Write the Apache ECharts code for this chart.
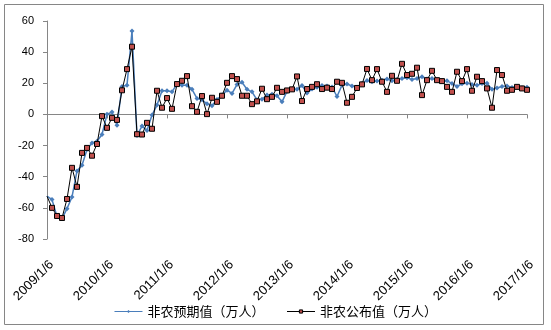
<!DOCTYPE html>
<html>
<head>
<meta charset="utf-8">
<script src="https://cdn.jsdelivr.net/npm/echarts@6/dist/echarts.min.js"></script>
<style>
  html, body { margin: 0; padding: 0; background: #fff; }
  #chart { width: 551px; height: 330px; }
</style>
</head>
<body>
<div id="chart"></div>
<script>
// Monthly US non-farm payrolls, Jan 2009 - Jan 2017 (ten-thousands of jobs)
const startYear = 2009;
const monthCount = 97;
const seriesNames = ['非农预期值（万人）', '非农公布值（万人）'];

// Consensus forecast
const expected = [
  -52.5, -54.7, -65.5, -66.9, -60.5, -53.0, -36.3, -32.6, -22.5, -18.3, -17.2, -12.9,
  0.1, 1.5, -7.0, 18.0, 18.8, 53.6, -13.5, -7.5, -10.3, -0.4, 6.0, 15.2,
  15.2, 14.5, 19.6, 18.8, 18.8, 16.1, 10.3, 9.4, 6.8, 5.6, 9.6, 12.4,
  15.6, 13.5, 19.2, 20.7, 16.1, 14.5, 9.4, 9.7, 12.4, 12.9, 12.0, 8.1,
  14.8, 16.0, 16.1, 18.5, 13.7, 16.4, 17.5, 18.5, 18.3, 17.6, 11.5, 18.8,
  19.5, 18.3, 17.5, 19.9, 21.8, 21.0, 21.4, 22.0, 22.7, 21.6, 22.5, 23.1,
  23.5, 22.5, 23.1, 24.2, 22.7, 23.1, 22.0, 21.4, 21.6, 19.9, 18.0, 19.7,
  20.1, 19.3, 18.8, 19.8, 20.1, 16.1, 17.0, 17.9, 18.2, 17.3, 17.7, 17.2,
  17.5
];

// Published figure
const actual = [
  -52.5, -60.0, -65.2, -66.5, -54.3, -34.3, -46.5, -24.7, -21.5, -26.5, -19.0, -1.1,
  -8.6, -2.2, -3.5, 15.5, 29.1, 43.5, -12.7, -12.9, -5.4, -9.2, 15.2, 4.3,
  10.5, 3.6, 19.5, 21.6, 24.6, 5.3, 1.7, 11.8, 0.2, 10.7, 8.1, 12.0,
  20.3, 24.6, 22.7, 12.0, 12.0, 6.6, 8.4, 16.5, 9.8, 11.3, 17.1, 14.5,
  15.4, 16.1, 24.4, 8.6, 16.3, 17.7, 19.4, 16.3, 17.2, 16.3, 21.0, 20.3,
  7.5, 11.3, 17.0, 19.3, 29.2, 22.0, 29.1, 21.0, 14.5, 24.8, 21.6, 32.5,
  25.3, 26.1, 30.0, 12.4, 22.0, 28.0, 22.0, 21.4, 17.7, 14.5, 27.4, 21.4,
  29.1, 15.2, 24.2, 21.4, 16.7, 4.3, 28.5, 25.3, 15.2, 15.8, 17.7, 16.7,
  15.8
];

const yMin = -80, yMax = 60, yStep = 20;

// Month labels in the form year/month/6
const months = [];
for (let i = 0; i < monthCount; i++) {
  const y = startYear + Math.floor(i / 12);
  const m = (i % 12) + 1;
  months.push(y + '/' + m + '/6');
}

// First point sits on the axis without a marker
function withFirstHidden(arr) {
  return arr.map((v, i) => i === 0 ? { value: v, symbol: 'none' } : v);
}

const axisGray = '#868686';
const latin = '"Liberation Sans", Arial, sans-serif';
const cjk = '"Noto Sans CJK SC", "Liberation Sans", sans-serif';

const chart = echarts.init(document.getElementById('chart'), null, { renderer: 'canvas' });
chart.setOption({
  animation: false,
  backgroundColor: '#fff',
  graphic: [{
    type: 'rect',
    shape: { x: 4.5, y: 4.5, width: 539, height: 320 },
    style: { fill: null, stroke: axisGray, lineWidth: 1 },
    silent: true
  }],
  grid: { left: 47, right: 24, top: 21, bottom: 91, containLabel: false },
  legend: {
    data: seriesNames,
    top: 300,
    left: 'center',
    itemWidth: 28,
    itemHeight: 4,
    itemGap: 22,
    itemStyle: { borderWidth: 1 },
    lineStyle: { width: 1 },
    textStyle: { fontFamily: cjk, fontSize: 13, color: '#000' }
  },
  xAxis: [
    {
      // labels along the bottom of the plot
      type: 'category',
      data: months,
      boundaryGap: false,
      position: 'bottom',
      axisLine: { show: false, onZero: false },
      axisTick: { show: false },
      splitLine: { show: false },
      axisLabel: {
        interval: 11, rotate: 45, margin: 19, verticalAlign: 'top',
        fontFamily: latin, fontSize: 13, color: '#000'
      }
    },
    {
      // baseline through zero with yearly ticks
      type: 'category',
      data: months,
      boundaryGap: false,
      position: 'bottom',
      axisLine: { show: true, onZero: true, onZeroAxisIndex: 0, lineStyle: { color: axisGray, width: 1 } },
      axisTick: { show: true, interval: 11, length: 4, lineStyle: { color: axisGray } },
      axisLabel: { show: false },
      splitLine: { show: false }
    }
  ],
  yAxis: {
    type: 'value',
    min: yMin, max: yMax, interval: yStep,
    axisLine: { show: true, lineStyle: { color: axisGray, width: 1 } },
    axisTick: { show: true, length: 4, lineStyle: { color: axisGray } },
    splitLine: { show: false },
    axisLabel: { margin: 13, fontFamily: latin, fontSize: 11, color: '#000' }
  },
  series: [
    {
      name: seriesNames[0],
      type: 'line',
      xAxisIndex: 0,
      data: withFirstHidden(expected),
      symbol: 'diamond',
      symbolSize: 5,
      showAllSymbol: true,
      lineStyle: { color: '#4A7EBB', width: 1.5 },
      itemStyle: { color: '#4A7EBB' },
      z: 2
    },
    {
      name: seriesNames[1],
      type: 'line',
      xAxisIndex: 0,
      data: withFirstHidden(actual),
      symbol: 'rect',
      symbolSize: 5,
      showAllSymbol: true,
      lineStyle: { color: '#000', width: 1 },
      itemStyle: { color: '#C0504D', borderColor: '#000', borderWidth: 1 },
      z: 3
    }
  ]
});
</script>
</body>
</html>
